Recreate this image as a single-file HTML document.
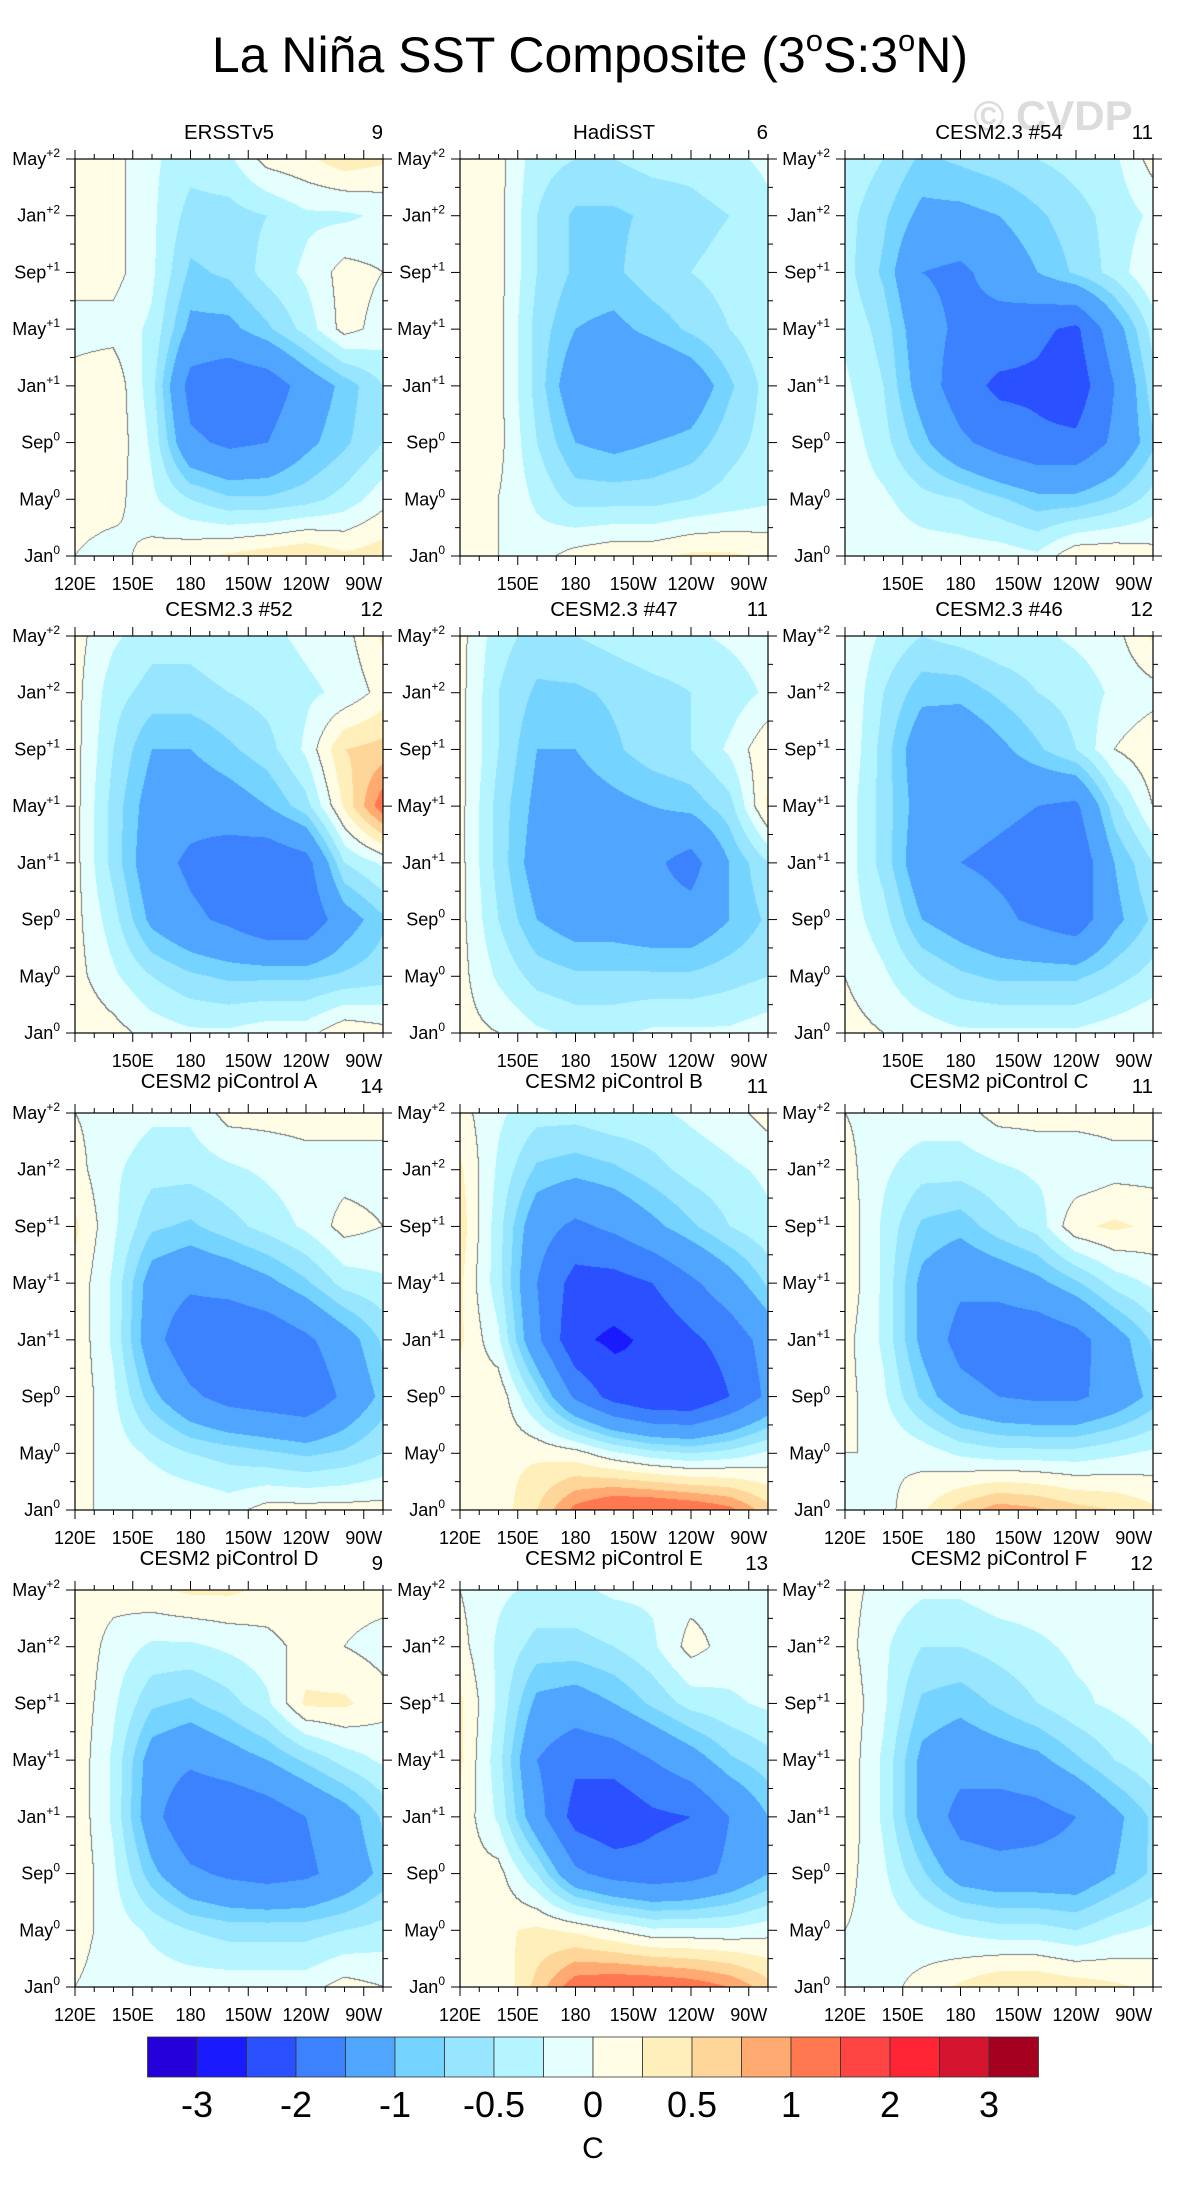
<!DOCTYPE html>
<html><head><meta charset="utf-8"><style>
body{margin:0;background:#fff;}
#wrap{position:relative;width:1180px;height:2186px;overflow:hidden;background:#fff;}
canvas{position:absolute;}
svg{position:absolute;left:0;top:0;}
text{font-family:"Liberation Sans",sans-serif;fill:#000;}
</style></head><body>
<div id="wrap">
<svg id="ov" width="1180" height="2186">
<text x="590" y="72" font-size="50" text-anchor="middle">La Niña SST Composite (3<tspan font-size="31" dy="-21">o</tspan><tspan dy="21">S:3</tspan><tspan font-size="31" dy="-21">o</tspan><tspan dy="21">N)</tspan></text>
<text x="1053" y="130" font-size="42" font-weight="bold" text-anchor="middle" style="fill:#dcdcdc">© CVDP</text>
</svg>
</div>
<script>
const lonGrid=[120,140,160,180,200,220,240,260,280];
const monthGrid=[28,24,20,16,12,8,4,0];
const levels=[-3,-2.5,-2,-1.5,-1,-0.75,-0.5,-0.25,0,0.25,0.5,0.75,1,1.5,2,2.5,3];
const colors=["#2600d9","#1a1aff","#2a50ff","#3c82ff","#50a5ff","#75d3ff","#97e5ff","#b5f5ff","#e5ffff","#fffde5","#ffefbb","#ffd699","#ffaa70","#ff7850","#ff4444","#ff2535","#d51530","#a50020"];
const cbLabels=["-3","-2","-1","-0.5","0","0.5","1","2","3"];
const titles=["ERSSTv5","HadiSST","CESM2.3 #54","CESM2.3 #52","CESM2.3 #47","CESM2.3 #46","CESM2 piControl A","CESM2 piControl B","CESM2 piControl C","CESM2 piControl D","CESM2 piControl E","CESM2 piControl F"];
const counts=["9","6","11","12","11","12","14","11","11","9","13","12"];
const xTickLabels=["120E","150E","180","150W","120W","90W"];
const yTickLabels=[["Jan","0"],["May","0"],["Sep","0"],["Jan","+1"],["May","+1"],["Sep","+1"],["Jan","+2"],["May","+2"]];
const f1=[[0.1,0.1,-0.2,-0.4,-0.3,0.1,0.2,0.4,0.3],[0.1,0.1,-0.2,-0.6,-0.6,-0.5,-0.3,-0.3,-0.2],[0.1,0.1,-0.2,-0.8,-0.7,-0.4,-0.2,0.1,0],[-0.1,-0.1,-0.3,-1.1,-1.1,-0.8,-0.4,0.1,-0.1],[0.1,0.2,-0.4,-1.7,-1.9,-1.8,-1.3,-0.9,-0.5],[0.2,0.2,-0.3,-1.4,-1.6,-1.5,-1.1,-0.8,-0.5],[0.1,0.1,-0.2,-0.5,-0.7,-0.7,-0.6,-0.4,-0.1],[0,-0.1,0.1,0.2,0.3,0.4,0.5,0.3,0.4]];
const f2=[[0.1,0.1,-0.4,-0.5,-0.5,-0.4,-0.4,-0.3,-0.2],[0.1,0.1,-0.5,-0.8,-0.8,-0.7,-0.6,-0.5,-0.3],[0.1,0.1,-0.5,-0.8,-0.8,-0.6,-0.5,-0.4,-0.3],[0.2,0.1,-0.6,-1.0,-1.1,-0.9,-0.7,-0.5,-0.3],[0.2,0.1,-0.6,-1.3,-1.5,-1.5,-1.3,-0.8,-0.4],[0.2,0.1,-0.5,-1.0,-1.1,-1.0,-0.9,-0.6,-0.4],[0.1,0,-0.3,-0.6,-0.6,-0.6,-0.5,-0.4,-0.3],[0.1,0,-0.1,0.1,0.2,0.2,0.3,0.3,0.2]];
const f3=[[-0.3,-0.5,-0.8,-0.7,-0.6,-0.5,-0.4,-0.3,0.1],[-0.4,-0.7,-1.1,-1.1,-1.0,-0.8,-0.6,-0.4,-0.2],[-0.4,-0.8,-1.5,-1.6,-1.3,-1.0,-0.7,-0.4,0],[-0.3,-0.6,-1.3,-1.6,-1.7,-1.9,-2.1,-1.2,-0.4],[-0.2,-0.5,-1.2,-1.8,-2.1,-2.1,-2.3,-1.5,-0.6],[-0.1,-0.4,-0.9,-1.4,-1.7,-1.9,-1.9,-1.4,-0.8],[-0.1,-0.2,-0.4,-0.5,-0.7,-0.9,-0.9,-0.7,-0.4],[-0.1,-0.1,-0.1,-0.1,-0.1,-0.2,0.2,0.2,0.1]];
const f4=[[0.1,-0.2,-0.4,-0.4,-0.3,-0.3,-0.2,-0.1,0.3],[0.1,-0.4,-0.6,-0.6,-0.5,-0.4,-0.3,-0.2,0.1],[0.1,-0.5,-1.0,-1.0,-0.8,-0.6,-0.2,0.5,0.6],[0.1,-0.6,-1.2,-1.3,-1.2,-1.0,-0.6,0.3,1.2],[0.1,-0.6,-1.3,-1.6,-1.8,-1.9,-1.7,-0.5,-0.2],[0.1,-0.4,-1.1,-1.4,-1.6,-1.9,-1.9,-1.2,-0.8],[0.1,-0.2,-0.5,-0.7,-0.8,-0.8,-0.8,-0.7,-0.6],[0.2,0.1,-0.1,-0.2,-0.2,-0.1,-0.1,0.2,0.1]];
const f5=[[0.1,-0.4,-0.6,-0.5,-0.4,-0.3,-0.3,-0.2,-0.1],[0.1,-0.5,-0.8,-0.8,-0.7,-0.6,-0.5,-0.4,-0.2],[0.1,-0.5,-1.0,-1.0,-0.8,-0.6,-0.5,-0.2,0.2],[0.1,-0.6,-1.1,-1.2,-1.1,-1.0,-0.9,-0.6,0.3],[0.1,-0.6,-1.2,-1.3,-1.3,-1.4,-1.7,-1.0,-0.5],[0.1,-0.5,-1.0,-1.2,-1.2,-1.3,-1.3,-1.0,-0.7],[0.1,-0.3,-0.6,-0.7,-0.7,-0.7,-0.7,-0.6,-0.5],[0.1,0,-0.2,-0.3,-0.3,-0.2,-0.2,-0.2,-0.1]];
const f6=[[0,-0.3,-0.5,-0.4,-0.3,-0.3,-0.2,-0.1,0.3],[0,-0.5,-0.9,-0.9,-0.7,-0.5,-0.4,-0.2,-0.1],[0,-0.6,-1.3,-1.4,-1.1,-0.8,-0.5,0,0.2],[-0.1,-0.6,-1.2,-1.3,-1.4,-1.5,-1.6,-0.6,0],[-0.1,-0.6,-1.3,-1.5,-1.6,-1.7,-1.9,-1.0,-0.5],[-0.1,-0.4,-1.0,-1.2,-1.4,-1.6,-1.8,-1.1,-0.7],[0,-0.2,-0.5,-0.7,-0.8,-0.8,-0.8,-0.6,-0.4],[0.1,0,-0.1,-0.2,-0.2,-0.2,-0.2,-0.1,0]];
const f7=[[0,-0.1,-0.2,-0.2,0.1,0.1,0.1,0.1,0.1],[0.1,-0.2,-0.4,-0.4,-0.3,-0.2,-0.1,-0.1,-0.1],[0.3,-0.2,-0.7,-0.8,-0.6,-0.4,-0.2,0.1,0],[0.2,-0.3,-1.2,-1.4,-1.3,-1.1,-0.8,-0.4,-0.3],[0.2,-0.3,-1.3,-1.9,-2.0,-1.9,-1.6,-1.2,-0.7],[0.2,-0.2,-0.9,-1.4,-1.7,-1.8,-1.9,-1.4,-0.9],[0.1,-0.1,-0.3,-0.5,-0.6,-0.7,-0.8,-0.7,-0.5],[0,0,0,0,-0.1,0.1,0.1,0.1,0.1]];
const f8=[[0.1,-0.2,-0.4,-0.4,-0.3,-0.3,-0.2,-0.1,0.1],[0.3,-0.3,-0.8,-0.9,-0.8,-0.6,-0.4,-0.3,-0.2],[0.4,-0.4,-1.3,-1.6,-1.4,-1.1,-0.8,-0.5,-0.3],[0.3,-0.4,-1.5,-2.2,-2.2,-2.0,-1.6,-1.2,-0.7],[0.3,-0.2,-1.4,-2.4,-2.6,-2.4,-2.1,-1.8,-1.3],[0.1,0.2,-0.6,-1.6,-2.2,-2.5,-2.5,-2.0,-1.4],[0,0.2,0.2,0.1,-0.2,-0.4,-0.5,-0.4,-0.2],[0,0.1,0.5,1.1,1.4,1.4,1.3,1.1,0.6]];
const f9=[[0,-0.1,-0.1,-0.1,0.1,0.1,0.1,0.1,0.1],[0.1,-0.2,-0.4,-0.4,-0.3,-0.2,-0.2,-0.1,-0.1],[0.2,-0.3,-0.8,-0.9,-0.6,-0.4,0.2,0.3,0.2],[0.2,-0.3,-1.1,-1.4,-1.3,-1.1,-0.8,-0.4,-0.2],[0.1,-0.3,-1.1,-1.7,-1.9,-1.9,-1.7,-1.2,-0.7],[0.1,-0.2,-0.8,-1.3,-1.5,-1.6,-1.6,-1.3,-0.9],[0,0,-0.1,-0.3,-0.4,-0.4,-0.4,-0.3,-0.2],[0,-0.1,0.2,0.6,0.9,0.8,0.6,0.5,0.3]];
const f10=[[0.1,0.1,0.2,0.3,0.3,0.2,0.2,0.1,0.1],[0.2,-0.1,-0.3,-0.3,-0.2,-0.1,0.1,0,-0.1],[0.2,-0.2,-0.7,-0.8,-0.6,-0.3,0.3,0.3,0.1],[0.2,-0.3,-1.2,-1.4,-1.2,-1.0,-0.7,-0.4,-0.2],[0.2,-0.3,-1.3,-2.0,-2.0,-1.8,-1.5,-1.2,-0.7],[0.2,-0.2,-0.9,-1.4,-1.6,-1.7,-1.6,-1.3,-0.9],[0.1,-0.1,-0.3,-0.5,-0.6,-0.6,-0.6,-0.5,-0.4],[0,-0.1,-0.1,-0.1,-0.1,-0.1,-0.1,0.1,0]];
const f11=[[0,-0.2,-0.3,-0.3,-0.2,-0.2,-0.1,-0.1,0],[0.1,-0.3,-0.6,-0.6,-0.5,-0.3,0.1,-0.1,-0.1],[0.3,-0.3,-1.1,-1.2,-1.0,-0.7,-0.4,-0.3,-0.2],[0.3,-0.4,-1.5,-1.9,-1.8,-1.5,-1.2,-0.8,-0.6],[0.2,-0.3,-1.3,-2.2,-2.4,-2.1,-2.0,-1.5,-1.0],[0.1,0.1,-0.5,-1.4,-1.7,-1.8,-1.7,-1.4,-1.0],[0,0.2,0.3,0.2,0,-0.2,-0.2,-0.2,-0.1],[0,0,0.6,1.2,1.3,1.3,1.2,1.0,0.6]];
const f12=[[0.1,-0.1,-0.2,-0.2,-0.1,-0.1,-0.1,0,0],[0.1,-0.2,-0.5,-0.5,-0.4,-0.3,-0.2,-0.2,-0.1],[0.2,-0.2,-0.8,-0.9,-0.7,-0.5,-0.3,-0.2,-0.1],[0.2,-0.3,-1.1,-1.3,-1.2,-1.1,-0.8,-0.5,-0.3],[0.2,-0.3,-1.1,-1.7,-1.8,-1.7,-1.5,-1.1,-0.7],[0.1,-0.2,-0.7,-1.2,-1.3,-1.3,-1.3,-1.0,-0.7],[0,-0.1,-0.2,-0.3,-0.4,-0.4,-0.5,-0.3,-0.2],[0,-0.1,0.1,0.3,0.5,0.5,0.4,0.3,0.2]];
const fields=[f1,f2,f3,f4,f5,f6,f7,f8,f9,f10,f11,f12];

const NS="http://www.w3.org/2000/svg";
const wrap=document.getElementById('wrap');
const ov=document.getElementById('ov');
const PW=308,PH=397;
const lefts=[75,460,845];
const tops=[159,636,1113,1590];
const LON0=120,LON1=280,M0=0,M1=28;
function mk(tag,attrs,parent){const e=document.createElementNS(NS,tag);for(const k in attrs)e.setAttribute(k,attrs[k]);(parent||ov).appendChild(e);return e;}
function colorFor(v){let i=0;while(i<levels.length&&v>=levels[i])i++;return colors[i];}
function hex(c){return [parseInt(c.substr(1,2),16),parseInt(c.substr(3,2),16),parseInt(c.substr(5,2),16)];}

fields.forEach((f,p)=>{
  const r=Math.floor(p/3),c=p%3,L=lefts[c],T=tops[r];
  const xS=lon=>L+(lon-LON0)/(LON1-LON0)*PW;
  const yS=m=>T+PH-(m-M0)/(M1-M0)*PH;
  const nC=lonGrid.length,nR=monthGrid.length;
  function val(lon,m){
    let gx=(lon-lonGrid[0])/(lonGrid[nC-1]-lonGrid[0])*(nC-1);
    let gy=(monthGrid[0]-m)/(monthGrid[0]-monthGrid[nR-1])*(nR-1);
    gx=Math.max(0,Math.min(nC-1.0001,gx));gy=Math.max(0,Math.min(nR-1.0001,gy));
    const i=Math.floor(gx),j=Math.floor(gy),fx=gx-i,fy=gy-j;
    return (f[j][i]*(1-fx)+f[j][i+1]*fx)*(1-fy)+(f[j+1][i]*(1-fx)+f[j+1][i+1]*fx)*fy;
  }
  const cv=document.createElement('canvas');
  cv.width=PW;cv.height=PH;cv.style.left=L+'px';cv.style.top=T+'px';
  
  
  wrap.insertBefore(cv,ov);
  const ctx=cv.getContext('2d');const img=ctx.createImageData(PW,PH);
  const V=new Float32Array(PW*PH);
  for(let y=0;y<PH;y++)for(let x=0;x<PW;x++){
    const lon=LON0+(x+0.5)/PW*(LON1-LON0), m=M0+(PH-y-0.5)/PH*(M1-M0);
    V[y*PW+x]=val(lon,m);
  }
  for(let y=0;y<PH;y++)for(let x=0;x<PW;x++){
    const v=V[y*PW+x];let rgb=hex(colorFor(v));
    const s=v>=0;
    if((x<PW-1&&(V[y*PW+x+1]>=0)!==s)||(y<PH-1&&(V[(y+1)*PW+x]>=0)!==s))rgb=[120,120,120];
    const k=(y*PW+x)*4;img.data[k]=rgb[0];img.data[k+1]=rgb[1];img.data[k+2]=rgb[2];img.data[k+3]=255;
  }
  ctx.putImageData(img,0,0);
  const g=mk('g',{});
  
  
  const fr=mk('rect',{x:L,y:T,width:PW,height:PH,fill:'none',stroke:'#000','stroke-width':1.2},g);
  
  
  for(let lon=120;lon<=280;lon+=10){
    const x=xS(lon),maj=(lon-120)%30===0,len=maj?9:5;
    mk('line',{x1:x,x2:x,y1:T,y2:T-len,stroke:'#000','stroke-width':1},g);
    mk('line',{x1:x,x2:x,y1:T+PH,y2:T+PH+len,stroke:'#000','stroke-width':1},g);
  }
  xTickLabels.forEach((lab,i)=>{
    if(i===0&&!(p===0||r>=2))return;
    const t=mk('text',{x:xS(120+30*i),y:T+PH+34,'font-size':18,'text-anchor':'middle'},g);
    t.textContent=lab;
    
    
  });
  for(let m=0;m<=28;m+=2){
    const y=yS(m),len=m%4===0?9:5;
    mk('line',{x1:L,x2:L-len,y1:y,y2:y,stroke:'#000','stroke-width':1},g);
    mk('line',{x1:L+PW,x2:L+PW+len,y1:y,y2:y,stroke:'#000','stroke-width':1},g);
  }
  yTickLabels.forEach((lab,i)=>{
    const t=mk('text',{x:L-15,y:yS(i*4)+6,'font-size':18,'text-anchor':'end'},g);
    
    
    t.appendChild(document.createTextNode(lab[0]));
    const s=mk('tspan',{'font-size':12,dy:-8},t);s.textContent=lab[1];
  });
  const ti=mk('text',{x:L+PW/2,y:T-(r>=2?25:20),'font-size':20.5,'text-anchor':'middle'},g);
  ti.textContent=titles[p];
  
  
  const cn=mk('text',{x:L+PW,y:T-20,'font-size':20.5,'text-anchor':'end'},g);
  cn.textContent=counts[p];
  
  
});

const cbg=mk('g',{});


const CBL=147.5,CBR=1038.5,CBT=2037,CBH=40,bw=(CBR-CBL)/colors.length;
colors.forEach((col,i)=>{
  const b=mk('rect',{x:CBL+i*bw,y:CBT,width:bw,height:CBH,fill:col,stroke:'#333','stroke-width':0.8},cbg);
  
  
});
cbLabels.forEach((lab,i)=>{
  const t=mk('text',{x:CBL+(1+2*i)*bw,y:2117,'font-size':36,'text-anchor':'middle'},cbg);
  t.textContent=lab;
  
  
});
const unit=mk('text',{x:CBL+9*bw,y:2158,'font-size':30,'text-anchor':'middle'},cbg);
unit.textContent='C';


</script>
</body></html>
